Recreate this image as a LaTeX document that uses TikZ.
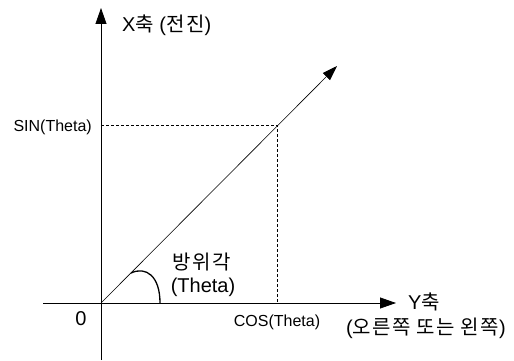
\documentclass[tikz,border=0pt]{standalone}
\usepackage{fontspec}
\setmainfont{Liberation Sans}
\newfontfamily\kr[LetterSpace=8]{Noto Sans CJK KR}
\usetikzlibrary{arrows.meta}
\begin{document}
\begin{tikzpicture}[x=1pt, y=-1pt, axis/.style={line width=0.8pt, -{Triangle[length=16pt, width=11pt]}},
    guide/.style={line width=1pt, dash pattern=on 3pt off 2pt},
    lbl/.style={inner sep=0pt, anchor=base, font=\fontsize{16}{19}\selectfont},
    klbl/.style={inner sep=0pt, anchor=base, font=\fontsize{20}{24}\selectfont}]
    \useasboundingbox (0,0) rectangle (514,361);
    \coordinate (O) at (101,303);
    \coordinate (Xbot) at (101,360);
    \coordinate (Xtop) at (101,8);
    \coordinate (Yleft) at (43,303);
    \coordinate (Yright) at (396,303);
    \coordinate (D) at (337,66);
    \coordinate (P) at (277,125);
    \coordinate (Pxs) at (101,125);
    \coordinate (Pys) at (277,303);

    \draw[axis] (Xbot) -- (Xtop);
    \draw[axis] (Yleft) -- (Yright);
    \draw[line width=0.6pt, -{Triangle[length=15pt, width=10pt]}] (O) -- (D);
    \draw[guide] (Pxs) -- (P) -- (Pys);
    \draw[line width=1.3pt] (160,303) .. controls (160,276) and (146,266) .. (131,273);

    \node (xaxis) [klbl, anchor=base west] at (122,32) {X{\kr 축} ({\kr 전진})};
    \node (yaxis) [klbl, anchor=base west] at (408,309) {Y{\kr 축}};
    \node (ydir) [klbl] at (426,334) {({\kr 오른쪽} {\kr 또는} {\kr 왼쪽})};
    \node (sin) [lbl, anchor=base east] at (92,131) {SIN(Theta)};
    \node (cos) [lbl] at (277,326) {COS(Theta)};
    \node (zero) [klbl] at (81,325) {0};
    \node (azim) [klbl] at (202,269) {\kr 방위각};
    \node (theta) [klbl] at (203,292) {(Theta)};
\end{tikzpicture}
\end{document}
